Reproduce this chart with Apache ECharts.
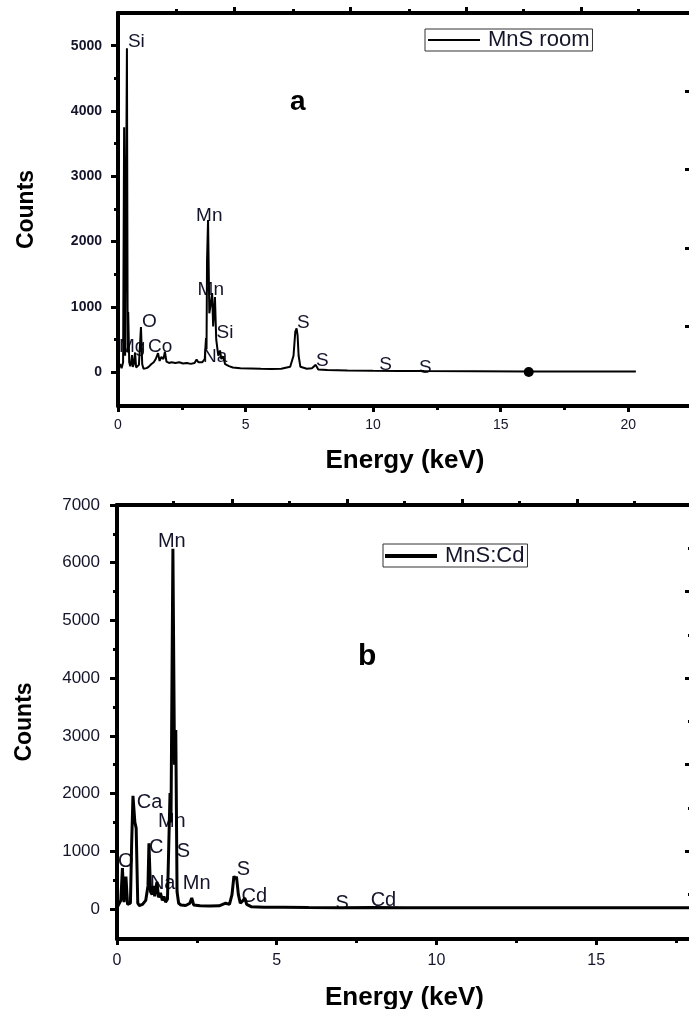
<!DOCTYPE html>
<html>
<head>
<meta charset="utf-8">
<script src="https://cdn.jsdelivr.net/npm/echarts@6/dist/echarts.min.js"></script>
<style>
  html, body { margin: 0; padding: 0; background: #fff; }
  #demo { width: 689px; height: 1009px; }
</style>
</head>
<body>
<div id="demo"></div>
<script>
// spectrum a : MnS room
var energyA = [0.02, 0.08, 0.14, 0.2, 0.24, 0.28, 0.35, 0.38, 0.4, 0.44, 0.48, 0.52, 0.55, 0.58, 0.62, 0.67, 0.71, 0.76, 0.82, 0.9,
  0.95, 1.0, 1.05, 1.12, 1.2, 1.3, 1.4, 1.48, 1.57, 1.63, 1.7, 1.78, 1.84, 1.9, 2.0, 2.1, 2.25, 2.4, 2.55, 2.7,
  2.85, 3.0, 3.08, 3.15, 3.3, 3.4, 3.45, 3.47, 3.49, 3.53, 3.58, 3.62, 3.69, 3.73, 3.8, 3.85, 3.88, 3.93, 4.0, 4.05,
  4.12, 4.2, 4.35, 4.5, 4.8, 5.2, 5.6, 6.0, 6.4, 6.75, 6.88, 6.95, 7.0, 7.04, 7.08, 7.15, 7.4, 7.6, 7.75, 7.85,
  8.2, 9, 10, 11, 12, 14, 16, 18, 20.3];
var countsA = [60, 120, 60, 150, 3750, 250, 4960, 300, 920, 150, 90, 160, 260, 80, 120, 300, 70, 90, 110, 690,
  120, 50, 40, 60, 80, 120, 150, 200, 290, 170, 230, 200, 310, 160, 140, 150, 140, 150, 130, 140,
  125, 140, 190, 150, 150, 200, 520, 350, 1710, 2330, 900, 1000, 1210, 700, 1150, 500, 490, 250, 330, 200,
  240, 120, 90, 70, 60, 55, 50, 48, 50, 80, 250, 620, 670, 560, 250, 80, 50, 60, 110, 40,
  30, 25, 20, 18, 15, 12, 10, 10, 10];
var dotA = [[16.1, 0]];

// spectrum b : MnS:Cd
var energyB = [0.02, 0.05, 0.12, 0.17, 0.22, 0.28, 0.33, 0.42, 0.46, 0.5, 0.56, 0.6, 0.65, 0.7, 0.8, 0.9, 0.97, 1.0, 1.05, 1.1,
  1.14, 1.18, 1.25, 1.3, 1.36, 1.42, 1.47, 1.52, 1.58, 1.62, 1.66, 1.69, 1.75, 1.8, 1.84, 1.88, 1.93, 2.0, 2.15, 2.28,
  2.34, 2.4, 2.6, 2.9, 3.2, 3.4, 3.45, 3.52, 3.6, 3.66, 3.7, 3.74, 3.8, 3.86, 3.95, 4.0, 4.06, 4.2, 4.6, 5.2,
  6.0, 7.0, 8.0, 9, 12, 15, 18];
var countsB = [40, 60, 150, 710, 120, 560, 80, 100, 1160, 1960, 1500, 1400, 100, 60, 80, 150, 400, 1140, 300, 250,
  400, 220, 470, 200, 280, 150, 220, 120, 170, 150, 2010, 1500, 6240, 2500, 3100, 300, 100, 70, 60, 100,
  190, 70, 55, 50, 55, 100, 130, 80, 250, 570, 520, 560, 250, 100, 150, 190, 80, 40, 30, 28,
  25, 22, 25, 22, 20, 20, 20];

// peak labels [text, keV, counts]
var labelsA = [['Si', 0.39, 5060], ['Mg', 0.04, 390], ['Co', 1.18, 390], ['O', 0.94, 765], ['Mn', 3.06, 2400],
  ['Mn', 3.12, 1255], ['Si', 3.86, 600], ['Na', 3.33, 240], ['S', 7.02, 750], ['S', 7.76, 170], ['S', 10.24, 110], ['S', 11.8, 60]];
var labelsB = [['Mn', 1.28, 6360], ['Ca', 0.62, 1840], ['Mn', 1.28, 1510], ['C', 1.0, 1060], ['S', 1.87, 990],
  ['O', 0.03, 815], ['Na', 1.03, 450], ['Mn', 2.06, 450], ['S', 3.75, 680], ['Cd', 3.9, 225], ['S', 6.84, 100], ['Cd', 7.94, 155]];

// tick values
var yTicksA = [0, 1000, 2000, 3000, 4000, 5000];
var yMinorA = [500, 1500, 2500, 3500, 4500];
var yRightA = [700, 1900, 3100, 4300];
var topMajorA = [4.55, 9.1, 13.65, 18.15];
var topMinorA = [2.3, 6.85, 11.4, 15.9, 20.4];

var yTicksB = [0, 1000, 2000, 3000, 4000, 5000, 6000, 7000];
var yMinorB = [500, 1500, 2500, 3500, 4500, 5500, 6500];
var yRightB = [1000, 2500, 4000, 5500];
var yRightMinorB = [250, 1750, 3250, 4750, 6250];
var topMajorB = [3.6, 7.2, 10.8, 14.4];
var topMinorB = [1.75, 5.4, 9.0, 12.6, 16.2];

var txt = '#14142a';
var font = 'Liberation Sans';

function pairs(xs, ys) {
  return xs.map(function (x, i) { return [x, ys[i]]; });
}
function lbls(arr) {
  return arr.map(function (d) { return { name: d[0], value: [d[1], d[2]] }; });
}
function plain(v) { return String(v); }
function frame(gi, pos, max, ticks, len, inside) {
  return {
    type: 'value', gridIndex: gi, position: pos, min: 0, max: max,
    axisLine: { show: true, onZero: false, lineStyle: { color: '#000', width: 4 } },
    axisTick: { show: true, inside: !!inside, length: len, customValues: ticks, lineStyle: { color: '#000', width: 3 } },
    axisLabel: { show: false }, splitLine: { show: false }
  };
}
function yframe(gi, pos, min, max, ticks, len, inside, showLine) {
  return {
    type: 'value', gridIndex: gi, position: pos, min: min, max: max,
    axisLine: { show: showLine, onZero: false, lineStyle: { color: '#000', width: 4 } },
    axisTick: { show: true, inside: !!inside, length: len, customValues: ticks, lineStyle: { color: '#000', width: 3 } },
    axisLabel: { show: false }, splitLine: { show: false }
  };
}

var option = {
  animation: false,
  backgroundColor: '#fff',
  title: [
    { text: 'a', left: 290, top: 88, padding: 0, textStyle: { fontSize: 28, fontWeight: 'bold', color: '#000', fontFamily: font } },
    { text: 'b', left: 358, top: 642, padding: 0, textStyle: { fontSize: 30, fontWeight: 'bold', color: '#000', fontFamily: font } }
  ],
  legend: [
    {
      data: ['MnS room'], left: 425, top: 29, padding: [0, 3, 0, 3], itemGap: 0, icon: 'rect',
      borderColor: '#333', borderWidth: 1, itemWidth: 52, itemHeight: 2, selectedMode: false,
      textStyle: { fontSize: 22, lineHeight: 21, color: txt, fontFamily: font, padding: [0, 0, 0, 3] }
    },
    {
      data: ['MnS:Cd'], left: 383, top: 544, padding: [1, 3, 0, 2], itemGap: 0, icon: 'rect',
      borderColor: '#333', borderWidth: 1, itemWidth: 52, itemHeight: 4, selectedMode: false,
      textStyle: { fontSize: 22, lineHeight: 22, color: txt, fontFamily: font, padding: [0, 0, 0, 3] }
    }
  ],
  grid: [
    { left: 118, top: 13, right: -3, height: 393, outerBoundsMode: 'none' },
    { left: 117, top: 505, right: -3, height: 434, outerBoundsMode: 'none' }
  ],
  xAxis: [
    {
      type: 'value', gridIndex: 0, position: 'bottom', min: 0, max: 22.5, interval: 5,
      name: 'Energy (keV)', nameLocation: 'middle', nameGap: 42,
      nameTextStyle: { fontSize: 26, fontWeight: 'bold', color: '#000', fontFamily: font },
      axisLine: { onZero: false, lineStyle: { color: '#000', width: 4 } },
      axisTick: { length: 6, lineStyle: { color: '#000', width: 3 } },
      minorTick: { show: true, splitNumber: 2, length: 4, lineStyle: { color: '#000', width: 3 } },
      axisLabel: { fontSize: 14, color: txt, fontFamily: font, margin: 12, showMaxLabel: false },
      splitLine: { show: false }
    },
    frame(0, 'top', 22.5, topMajorA, 6),
    frame(0, 'top', 22.5, topMinorA, 4),
    {
      type: 'value', gridIndex: 1, position: 'bottom', min: 0, max: 18, interval: 5,
      name: 'Energy (keV)', nameLocation: 'middle', nameGap: 46,
      nameTextStyle: { fontSize: 26, fontWeight: 'bold', color: '#000', fontFamily: font },
      axisLine: { onZero: false, lineStyle: { color: '#000', width: 4 } },
      axisTick: { length: 6, lineStyle: { color: '#000', width: 3 } },
      minorTick: { show: true, splitNumber: 2, length: 4, lineStyle: { color: '#000', width: 3 } },
      axisLabel: { fontSize: 16, color: txt, fontFamily: font, margin: 14, showMaxLabel: false },
      splitLine: { show: false }
    },
    frame(1, 'top', 18, topMajorB, 6),
    frame(1, 'top', 18, topMinorB, 4)
  ],
  yAxis: [
    {
      type: 'value', gridIndex: 0, position: 'left', min: -520, max: 5500,
      name: 'Counts', nameLocation: 'middle', nameGap: 80,
      nameTextStyle: { fontSize: 23, fontWeight: 'bold', color: '#000', fontFamily: font },
      axisLine: { show: true, onZero: false, lineStyle: { color: '#000', width: 4 } },
      axisTick: { show: true, length: 7, customValues: yTicksA, lineStyle: { color: '#000', width: 3 } },
      axisLabel: { customValues: yTicksA, formatter: plain, fontSize: 14, fontWeight: 'bold', color: txt, fontFamily: font, margin: 16 },
      splitLine: { show: false }
    },
    yframe(0, 'left', -520, 5500, yMinorA, 4, false, false),
    yframe(0, 'right', -520, 5500, yRightA, 7, true, true),
    {
      type: 'value', gridIndex: 1, position: 'left', min: -520, max: 7000,
      name: 'Counts', nameLocation: 'middle', nameGap: 81,
      nameTextStyle: { fontSize: 23, fontWeight: 'bold', color: '#000', fontFamily: font },
      axisLine: { show: true, onZero: false, lineStyle: { color: '#000', width: 4 } },
      axisTick: { show: true, length: 7, customValues: yTicksB, lineStyle: { color: '#000', width: 3 } },
      axisLabel: { customValues: yTicksB, formatter: plain, fontSize: 17, color: txt, fontFamily: font, margin: 17 },
      splitLine: { show: false }
    },
    yframe(1, 'left', -520, 7000, yMinorB, 4, false, false),
    yframe(1, 'right', -520, 7000, yRightB, 7, true, true),
    yframe(1, 'right', -520, 7000, yRightMinorB, 4, true, false)
  ],
  series: [
    {
      name: 'MnS room', type: 'line', xAxisIndex: 0, yAxisIndex: 0, z: 3,
      data: pairs(energyA, countsA), symbol: 'none',
      lineStyle: { color: '#000', width: 2 }, itemStyle: { color: '#000' }
    },
    {
      name: 'dot', type: 'scatter', xAxisIndex: 0, yAxisIndex: 0, z: 4,
      data: dotA, symbolSize: 10, itemStyle: { color: '#000', opacity: 1 }
    },
    {
      name: 'labelsA', type: 'scatter', xAxisIndex: 0, yAxisIndex: 0, z: 2,
      data: lbls(labelsA), symbolSize: 0, silent: true, itemStyle: { opacity: 1 },
      label: { show: true, position: [0, 0], align: 'left', verticalAlign: 'middle', formatter: '{b}',
        fontSize: 19, color: txt, opacity: 1, fontFamily: font }
    },
    {
      name: 'MnS:Cd', type: 'line', xAxisIndex: 3, yAxisIndex: 3, z: 3,
      data: pairs(energyB, countsB), symbol: 'none',
      lineStyle: { color: '#000', width: 3 }, itemStyle: { color: '#000' }
    },
    {
      name: 'labelsB', type: 'scatter', xAxisIndex: 3, yAxisIndex: 3, z: 2,
      data: lbls(labelsB), symbolSize: 0, silent: true, itemStyle: { opacity: 1 },
      label: { show: true, position: [0, 0], align: 'left', verticalAlign: 'middle', formatter: '{b}',
        fontSize: 20, color: txt, opacity: 1, fontFamily: font }
    }
  ]
};

var myCharts = echarts.init(document.getElementById('demo'));
myCharts.setOption(option);
</script>
</body>
</html>
